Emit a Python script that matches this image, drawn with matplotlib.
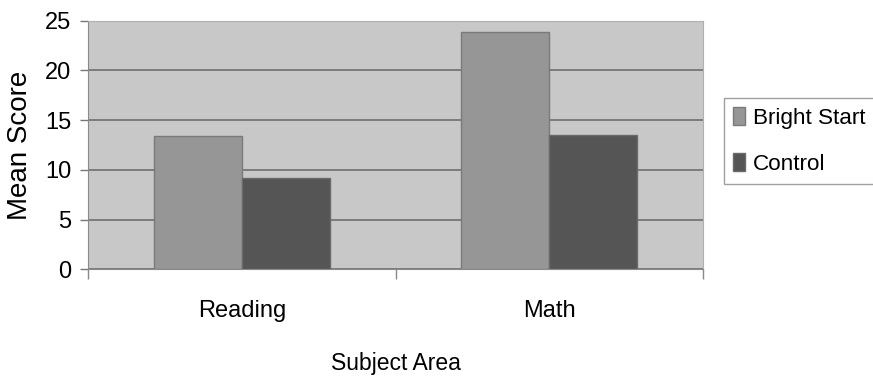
import numpy as np
import matplotlib.pyplot as plt
from matplotlib.ticker import FixedLocator

plt.rcParams['font.family'] = ['Liberation Sans', 'DejaVu Sans']

# Mean scores by subject area
subjects = ['Reading', 'Math']
bright_start = [13.4, 23.85]
control = [9.15, 13.55]
series_names = ['Bright Start', 'Control']

fig = plt.figure(figsize=(8.73, 3.81), dpi=100)
ax = fig.add_axes([0.1008, 0.2932, 0.7048, 0.6525])
ax.set_facecolor('#c8c8c8')

x = np.arange(len(subjects))
w = 0.286
ax.bar(x - w / 2, bright_start, w, color='#969696', edgecolor='#7a7a7a',
       linewidth=1, label=series_names[0], zorder=3)
ax.bar(x + w / 2, control, w, color='#555555', edgecolor='#6a6a6a',
       linewidth=1, label=series_names[1], zorder=3)

ax.set_xlim(-0.5, 1.5)
ax.set_ylim(0, 25)
ax.set_yticks(np.arange(0, 26, 5))
ax.yaxis.grid(True, color='#6e6e6e', linewidth=1.2, zorder=1)

# category labels sit between boundary ticks
ax.set_xticks(x)
ax.set_xticklabels(subjects)
ax.xaxis.set_minor_locator(FixedLocator([-0.5, 0.5, 1.5]))
ax.tick_params(axis='x', which='major', length=0, pad=22, labelsize=17)
ax.tick_params(axis='x', which='minor', length=7, width=1, color='#888888')
ax.tick_params(axis='y', length=6, width=1, color='#777777', pad=6,
               labelsize=17)

for side in ['left', 'bottom']:
    ax.spines[side].set_color('#8a8a8a')
for side in ['top', 'right']:
    ax.spines[side].set_color('#b0b0b0')

ax.set_ylabel('Mean Score', fontsize=20, labelpad=9)
ax.set_xlabel('Subject Area', fontsize=16.5, labelpad=22)

leg = fig.legend(loc='upper left', bbox_to_anchor=(724 / 873, 1 - 98 / 381),
                 prop={'size': 16.2}, fancybox=False, frameon=True,
                 handlelength=0.5, handleheight=0.85, handletextpad=0.35,
                 borderpad=0.42, labelspacing=1.05, borderaxespad=0)
leg.get_frame().set_edgecolor('#888888')
leg.get_frame().set_linewidth(1)

fig.savefig('out.png', dpi=100)
